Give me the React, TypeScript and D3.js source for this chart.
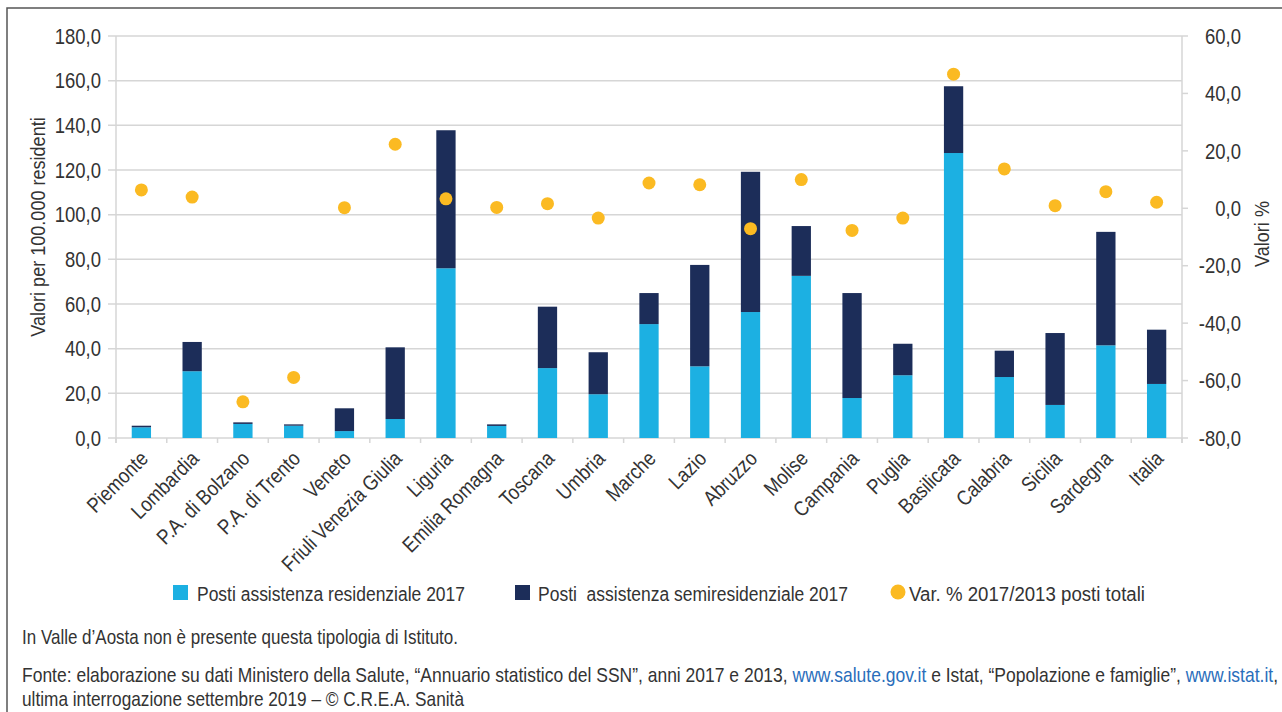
import React from 'react';
import * as d3 from 'd3';

// Regional places per 100,000 residents (2017) and % change 2017/2013
const regions = [
  'Piemonte', 'Lombardia', 'P.A. di Bolzano', 'P.A. di Trento', 'Veneto',
  'Friuli Venezia Giulia', 'Liguria', 'Emilia Romagna', 'Toscana', 'Umbria',
  'Marche', 'Lazio', 'Abruzzo', 'Molise', 'Campania', 'Puglia', 'Basilicata',
  'Calabria', 'Sicilia', 'Sardegna', 'Italia',
];
const residenziale = [
  4.8, 29.9, 6.3, 5.5, 3.1, 8.5, 76.0, 5.4, 31.3, 19.6, 51.0, 32.1, 56.4,
  72.6, 17.9, 28.1, 127.6, 27.3, 14.8, 41.5, 24.2,
];
const semiresidenziale = [
  0.7, 13.1, 0.7, 0.6, 10.2, 32.1, 61.8, 0.7, 27.5, 18.8, 13.9, 45.4, 62.8,
  22.3, 47.0, 14.1, 29.9, 11.8, 32.2, 50.8, 24.3,
];
const varPerc = [
  6.4, 3.9, -67.4, -58.9, 0.2, 22.3, 3.3, 0.3, 1.6, -3.4, 8.8, 8.2, -7.1,
  10.0, -7.7, -3.4, 46.7, 13.7, 0.9, 5.8, 2.1,
];
const leftTicks = [0, 20, 40, 60, 80, 100, 120, 140, 160, 180];
const rightTicks = [-80, -60, -40, -20, 0, 20, 40, 60];

const legendItems = [
  'Posti assistenza residenziale 2017',
  'Posti  assistenza semiresidenziale 2017',
  'Var. % 2017/2013 posti totali',
];

const W = 1282;
const H = 712;
const FONT = '"Liberation Sans", Arial, sans-serif';
const SX = 0.86; // horizontal squeeze for a condensed look
const TEXT = '#333333';
const GRID = '#d6d6d6';
const C_RES = '#1cb0e2';
const C_SEMI = '#1c2d59';
const C_DOT = '#fbba22';
const LINK = '#2a6ebb';

const fmt = (v: number) => d3.format('.1f')(v).replace('.', ',').replace('−', '-');

type TProps = {
  x: number;
  y: number;
  rot?: number;
  anchor?: 'start' | 'middle' | 'end';
  size: number;
  dy?: string;
  fill?: string;
  width?: number; // final on-screen width, if the run should be fitted to it
  children: React.ReactNode;
};

function T({ x, y, rot = 0, anchor = 'start', size, dy, fill = TEXT, width, children }: TProps) {
  const fit = width ? { textLength: width / SX, lengthAdjust: 'spacingAndGlyphs' } : {};
  return (
    <g transform={`translate(${x},${y}) rotate(${rot}) scale(${SX},1)`}>
      <text textAnchor={anchor} fontSize={size} dy={dy} fill={fill} style={{ whiteSpace: 'pre' }} {...fit}>
        {children}
      </text>
    </g>
  );
}

export default function App() {
  const plot = { left: 116, right: 1182, top: 36, bottom: 438 };

  const x = d3.scaleBand<string>().domain(regions).range([plot.left, plot.right]).padding(0);
  const yL = d3.scaleLinear().domain([0, 180]).range([plot.bottom, plot.top]);
  const yR = d3.scaleLinear().domain([-80, 60]).range([plot.bottom, plot.top]);

  const step = x.bandwidth();
  const barW = step * 0.38;

  const stacked = d3
    .stack<number>()
    .keys(['res', 'semi'])
    .value((i, key) => (key === 'res' ? residenziale[i] : semiresidenziale[i]))(
      d3.range(regions.length)
    );
  const stackColors = [C_RES, C_SEMI];

  const boundaries = d3.range(regions.length + 1).map((i) => plot.left + i * step);

  return (
    <div style={{ position: 'fixed', left: 0, top: 0, width: W, height: H, background: '#fff' }}>
      <svg width={W} height={H} style={{ display: 'block', fontFamily: FONT }}>
        <rect width={W} height={H} fill="#fff" />
        {/* frame */}
        <path d={`M7,${H} V8 H${W}`} fill="none" stroke="#555" strokeWidth={1.5} />

        {/* horizontal grid with left ticks */}
        {leftTicks.map((t) => (
          <line key={'g' + t} x1={plot.left - 8} x2={plot.right} y1={yL(t)} y2={yL(t)} stroke={GRID} strokeWidth={1.5} />
        ))}
        {/* left axis line */}
        <line x1={plot.left} x2={plot.left} y1={plot.top} y2={plot.bottom + 5} stroke={GRID} strokeWidth={1.5} />
        {/* right axis line and ticks */}
        <line x1={plot.right} x2={plot.right} y1={plot.top} y2={plot.bottom + 5} stroke={GRID} strokeWidth={1.5} />
        {rightTicks.map((t) => (
          <line key={'rt' + t} x1={plot.right} x2={plot.right + 6} y1={yR(t)} y2={yR(t)} stroke={GRID} strokeWidth={1.5} />
        ))}
        {/* category boundary ticks */}
        {boundaries.map((bx, i) => (
          <line key={'bt' + i} x1={bx} x2={bx} y1={plot.bottom} y2={plot.bottom + 5} stroke={GRID} strokeWidth={1.5} />
        ))}

        {/* left tick labels */}
        {leftTicks.map((t) => (
          <T key={'lt' + t} x={101} y={yL(t)} dy="0.36em" anchor="end" size={21.5}>
            {fmt(t)}
          </T>
        ))}
        {/* right tick labels */}
        {rightTicks.map((t) => (
          <T key={'rl' + t} x={1241} y={yR(t)} dy="0.36em" anchor="end" size={21.5}>
            {fmt(t)}
          </T>
        ))}

        {/* axis titles */}
        <T x={38} y={227} rot={-90} anchor="middle" dy="0.35em" size={21}>
          Valori per 100.000 residenti
        </T>
        <T x={1262} y={234} rot={-90} anchor="middle" dy="0.35em" size={21}>
          Valori %
        </T>

        {/* stacked bars */}
        {stacked.map((layer, li) =>
          layer.map((d, i) => (
            <rect
              key={`b${li}-${i}`}
              x={(x(regions[i]) as number) + (step - barW) / 2}
              y={yL(d[1])}
              width={barW}
              height={Math.max(0, yL(d[0]) - yL(d[1]))}
              fill={stackColors[li]}
            />
          ))
        )}

        {/* % change dots */}
        {varPerc.map((v, i) => (
          <circle key={'d' + i} cx={(x(regions[i]) as number) + step / 2} cy={yR(v)} r={6.5} fill={C_DOT} />
        ))}

        {/* category labels */}
        {regions.map((r) => (
          <T key={'xl' + r} x={(x(r) as number) + step / 2 + 8} y={460} rot={-45} anchor="end" size={21}>
            {r}
          </T>
        ))}

        {/* legend */}
        <rect x={173} y={585} width={15} height={15} fill={C_RES} />
        <T x={197} y={593} dy="0.36em" size={21} width={268}>{legendItems[0]}</T>
        <rect x={515} y={585} width={15} height={15} fill={C_SEMI} />
        <T x={538} y={593} dy="0.36em" size={21} width={310}>{legendItems[1]}</T>
        <circle cx={898} cy={592} r={7.5} fill={C_DOT} />
        <T x={909} y={593} dy="0.36em" size={21} width={236}>{legendItems[2]}</T>

        {/* notes */}
        <T x={22} y={644} size={20} width={436}>
          In Valle d’Aosta non è presente questa tipologia di Istituto.
        </T>
        <T x={22} y={682} size={20} width={1256}>
          {'Fonte: elaborazione su dati Ministero della Salute, “Annuario statistico del SSN”, anni 2017 e 2013, '}
          <tspan fill={LINK}>www.salute.gov.it</tspan>
          {' e Istat, “Popolazione e famiglie”, '}
          <tspan fill={LINK}>www.istat.it</tspan>
          {','}
        </T>
        <T x={22} y={706} size={20} width={442}>
          ultima interrogazione settembre 2019 – © C.R.E.A. Sanità
        </T>
      </svg>
    </div>
  );
}
